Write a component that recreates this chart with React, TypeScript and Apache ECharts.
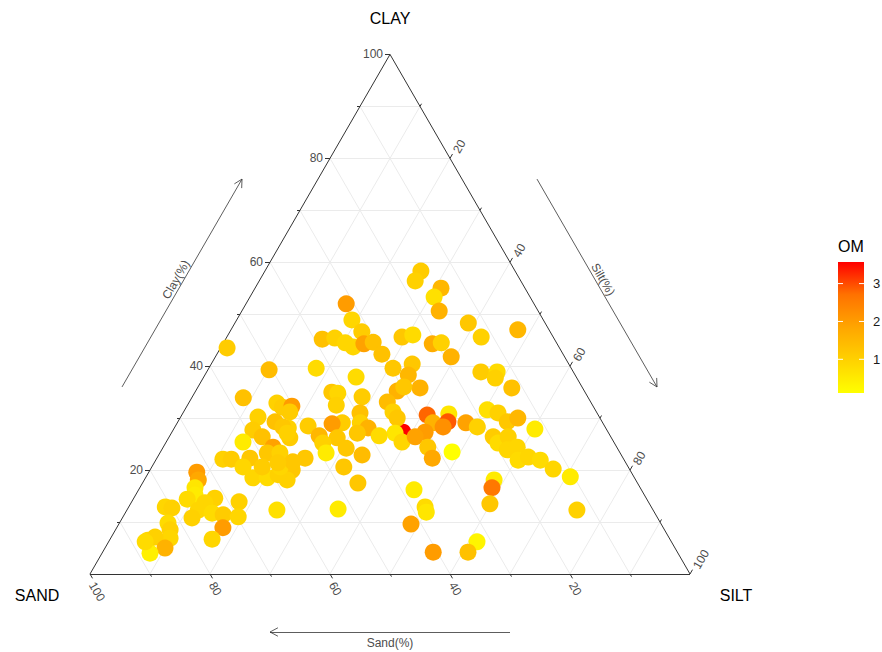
import React, { useEffect, useRef } from "react";
import * as echarts from "echarts";

// ---- data (percentages) ----
const CLAY = [27.3, 58.3, 56.4, 55.0, 53.3, 50.6, 48.3, 45.6, 47.0, 52.0, 48.9, 46.6, 45.2, 45.4, 44.5, 43.7, 44.3, 44.6, 42.3, 45.6, 46.0, 44.3, 44.5, 41.8, 43.5, 39.3, 39.6, 37.9, 39.6, 40.4, 38.3, 35.2, 35.8, 36.0, 33.1, 38.9, 38.9, 37.7, 35.8, 33.9, 32.9, 32.1, 32.3, 35.0, 34.8, 32.5, 34.1, 31.2, 30.0, 30.6, 29.1, 27.3, 27.1, 25.4, 26.4, 24.4, 22.3, 30.8, 29.3, 28.3, 29.1, 28.3, 31.6, 31.0, 29.3, 30.0, 27.9, 26.4, 25.2, 26.4, 23.9, 24.4, 21.9, 22.5, 21.9, 20.2, 18.7, 23.5, 31.0, 29.1, 28.1, 26.6, 27.1, 29.1, 28.9, 26.2, 28.5, 26.6, 25.2, 24.2, 22.9, 23.3, 20.6, 31.2, 28.1, 26.2, 22.3, 20.0, 18.1, 17.5, 12.5, 16.2, 12.9, 11.9, 9.6, 4.2, 18.1, 16.6, 13.5, 12.3, 6.2, 4.2, 30.2, 27.7, 26.4, 29.3, 28.3, 27.1, 25.4, 24.4, 23.3, 23.3, 22.1, 22.1, 22.3, 20.6, 18.5, 18.5, 19.1, 20.6, 20.6, 12.3, 19.6, 18.1, 16.6, 15.2, 14.4, 14.6, 13.7, 12.3, 10.8, 11.7, 11.4, 13.9, 11.0, 8.9, 6.7, 12.9, 12.7, 9.8, 8.5, 6.9, 6.5, 7.1, 5.0, 4.0, 6.2, 21.6, 21.4];
const SILT = [38.5, 26.0, 26.0, 31.0, 30.7, 32.9, 38.9, 42.4, 47.8, 16.7, 19.2, 22.0, 16.1, 18.1, 20.3, 22.0, 23.5, 24.9, 27.5, 29.2, 30.8, 34.9, 36.3, 39.3, 1.1, 10.2, 17.9, 25.4, 30.7, 33.5, 33.9, 33.6, 37.1, 34.3, 33.0, 45.7, 48.4, 48.7, 52.4, 8.6, 14.7, 16.0, 17.5, 22.8, 23.9, 24.8, 28.3, 34.9, 36.2, 40.9, 42.6, 42.2, 37.3, 39.3, 41.0, 44.1, 45.9, 44.4, 45.0, 44.7, 48.1, 50.4, 50.4, 52.5, 54.9, 56.3, 60.2, 54.0, 55.4, 56.5, 57.6, 59.0, 60.4, 61.8, 64.1, 67.1, 70.7, 48.6, 29.5, 30.5, 32.3, 34.9, 31.0, 27.5, 25.9, 28.1, 22.1, 24.9, 26.2, 30.6, 33.9, 27.7, 32.0, 17.7, 19.0, 20.2, 24.7, 23.7, 23.8, 35.9, 35.1, 45.9, 49.4, 50.1, 48.7, 55.1, 58.3, 58.7, 59.9, 75.0, 61.4, 60.9, 12.9, 13.3, 15.5, 16.2, 18.0, 19.3, 12.8, 18.3, 17.9, 20.0, 11.1, 12.5, 15.5, 15.2, 17.9, 20.3, 21.8, 18.4, 21.4, 25.0, 8.0, 9.0, 9.2, 9.9, 9.0, 13.5, 12.3, 11.9, 11.6, 14.5, 16.5, 17.9, 19.2, 17.7, 17.0, 6.1, 7.3, 8.1, 9.1, 9.9, 6.4, 7.3, 10.0, 8.0, 6.1, 23.0, 20.6];
const SAND = [34.2, 15.7, 17.6, 14.0, 16.0, 16.5, 12.8, 12.0, 5.2, 31.3, 31.9, 31.4, 38.7, 36.5, 35.2, 34.3, 32.2, 30.5, 30.2, 25.2, 23.2, 20.8, 19.2, 18.9, 55.4, 50.5, 42.5, 36.7, 29.7, 26.1, 27.8, 31.2, 27.1, 29.7, 33.9, 15.4, 12.7, 13.6, 11.8, 57.5, 52.4, 51.9, 50.2, 42.2, 41.3, 42.7, 37.6, 33.9, 33.8, 28.5, 28.3, 30.5, 35.6, 35.3, 32.6, 31.5, 31.8, 24.8, 25.7, 27.0, 22.8, 21.3, 18.0, 16.5, 15.8, 13.7, 11.9, 19.6, 19.4, 17.1, 18.5, 16.6, 17.7, 15.7, 14.0, 12.7, 10.6, 27.9, 39.5, 40.4, 39.6, 38.5, 41.9, 43.4, 45.2, 45.7, 49.4, 48.5, 48.6, 45.2, 43.2, 49.0, 47.4, 51.1, 52.9, 53.6, 53.0, 56.3, 58.1, 46.6, 52.4, 37.9, 37.7, 38.0, 41.7, 40.7, 23.6, 24.7, 26.6, 12.7, 32.4, 34.9, 56.9, 59.0, 58.1, 54.5, 53.7, 53.6, 61.8, 57.3, 58.8, 56.7, 66.8, 65.4, 62.2, 64.2, 63.6, 61.2, 59.1, 61.0, 58.0, 62.7, 72.4, 72.9, 74.2, 74.9, 76.6, 71.9, 74.0, 75.8, 77.6, 73.8, 72.1, 68.2, 69.8, 73.4, 76.3, 81.0, 80.0, 82.1, 82.4, 83.2, 87.1, 85.6, 85.0, 88.0, 87.7, 55.4, 58.0];
const OM = [3.57, 1.1, 1.0, 1.5, 0.7, 1.6, 1.2, 1.0, 1.5, 2.0, 0.9, 1.1, 1.3, 1.0, 0.9, 0.9, 1.9, 1.3, 1.3, 1.2, 0.8, 1.7, 1.0, 1.6, 1.1, 1.4, 0.8, 0.8, 1.2, 1.2, 1.5, 1.6, 1.6, 1.2, 1.4, 1.1, 0.8, 1.0, 1.3, 1.3, 1.0, 1.1, 2.0, 1.2, 0.9, 1.0, 1.1, 1.0, 1.2, 2.8, 1.6, 2.0, 0.6, 0.9, 1.9, 1.2, 1.8, 0.6, 2.9, 2.2, 1.9, 1.0, 0.7, 1.0, 1.2, 1.5, 0.5, 1.1, 0.8, 1.0, 0.9, 0.9, 0.8, 0.9, 0.8, 0.9, 0.5, 0.11, 1.3, 1.0, 1.6, 0.8, 1.2, 1.1, 2.0, 1.2, 1.1, 1.5, 1.0, 1.2, 1.4, 0.5, 1.2, 1.1, 1.0, 1.1, 1.2, 1.2, 1.0, 1.2, 0.5, 0.5, 0.8, 0.6, 1.9, 2.0, 0.5, 2.6, 1.2, 1.0, 0.3, 1.3, 1.0, 1.1, 1.3, 1.3, 1.2, 1.0, 0.5, 1.9, 1.2, 1.0, 1.0, 1.1, 1.2, 0.9, 0.9, 0.8, 1.0, 1.1, 0.9, 0.7, 2.0, 1.8, 0.6, 0.5, 0.8, 1.0, 0.9, 0.9, 1.0, 0.8, 1.1, 1.0, 0.9, 2.0, 0.9, 0.9, 1.0, 0.8, 1.0, 0.9, 0.9, 1.0, 1.6, 0.4, 0.8, 1.2, 1.1];

const AXIS_TICKS = [20, 40, 60, 80, 100];
const MINOR_TICKS = [10, 30, 50, 70, 90];
const GRID_STEPS = [10, 20, 30, 40, 50, 60, 70, 80, 90];
const VERTEX_LABELS = ["CLAY", "SAND", "SILT"];
const AXIS_TITLES = ["Clay(%)", "Silt(%)", "Sand(%)"];
const LEGEND_TITLE = "OM";
const LEGEND_TICKS = [1, 2, 3];
const COLORS = ["#FFFF00", "#FFD200", "#FFA600", "#FF7200", "#FF0000"];

// ---- layout ----
const GL = 90, GT = 54.4, GW = 600, GH = 519.6;
const FONT = 'Arial, "Liberation Sans", sans-serif';
const S3 = Math.sqrt(3) / 2;

// ternary -> cartesian data units (x: 0..100, y: clay 0..100)
function T(clay: number, silt: number, sand: number): [number, number] {
  const t = clay + silt + sand;
  const c = (clay / t) * 100, s = (silt / t) * 100;
  return [s + c / 2, c];
}
function toPx(p: [number, number]): [number, number] {
  return [GL + (GW * p[0]) / 100, GT + GH * (1 - p[1] / 100)];
}
function toData(p: [number, number]): [number, number] {
  return [((p[0] - GL) / GW) * 100, (1 - (p[1] - GT) / GH) * 100];
}
function shiftPx(p: [number, number], dx: number, dy: number): [number, number] {
  const q = toPx(p);
  return toData([q[0] + dx, q[1] + dy]);
}

export default function App() {
  const ref = useRef<HTMLDivElement>(null);
  useEffect(() => {
    const chart = echarts.init(ref.current!, null, { renderer: "svg" });

    // grid lines
    const gridLines: any[] = [];
    GRID_STEPS.forEach((k) => {
      gridLines.push({ coords: [T(k, 0, 100 - k), T(k, 100 - k, 0)] });
      gridLines.push({ coords: [T(0, k, 100 - k), T(100 - k, k, 0)] });
      gridLines.push({ coords: [T(100 - k, 0, k), T(0, 100 - k, k)] });
    });

    // triangle
    const vSand = T(0, 0, 100), vSilt = T(0, 100, 0), vClay = T(100, 0, 0);
    const border = [
      { coords: [vSand, vSilt] },
      { coords: [vSilt, vClay] },
      { coords: [vClay, vSand] },
    ];

    // ticks
    const dirClay: [number, number] = [-1, 0];
    const dirSilt: [number, number] = [0.5, -S3];
    const dirSand: [number, number] = [0.5, S3];
    const tickLines: any[] = [];
    const addTick = (base: [number, number], dir: [number, number], len: number) => {
      tickLines.push({ coords: [base, shiftPx(base, dir[0] * len, dir[1] * len)] });
    };
    [...AXIS_TICKS.map((v) => [v, 5]), ...MINOR_TICKS.map((v) => [v, 3])].forEach(([v, len]) => {
      addTick(T(v, 0, 100 - v), dirClay, len);
      addTick(T(100 - v, v, 0), dirSilt, len);
      addTick(T(0, 100 - v, v), dirSand, len);
    });

    // arrows
    const arrowLines: any[] = [];
    const addArrow = (a: [number, number], b: [number, number]) => {
      arrowLines.push({ coords: [a, b] });
      const pa = toPx(a), pb = toPx(b);
      const ang = Math.atan2(pa[1] - pb[1], pa[0] - pb[0]);
      const L = 9, h = (28 * Math.PI) / 180;
      [ang - h, ang + h].forEach((g) => {
        arrowLines.push({ coords: [b, toData([pb[0] + L * Math.cos(g), pb[1] + L * Math.sin(g)])] });
      });
    };
    const clayA = shiftPx(T(36, 0, 64), -76, 0), clayB = shiftPx(T(76, 0, 24), -76, 0);
    const siltA = shiftPx(T(76, 24, 0), 75, 0), siltB = shiftPx(T(36, 64, 0), 75, 0);
    const sandA = shiftPx(T(0, 70, 30), 0, 58), sandB = shiftPx(T(0, 30, 70), 0, 58);
    addArrow(clayA, clayB);
    addArrow(siltA, siltB);
    addArrow(sandA, sandB);

    const points = CLAY.map((c, i) => {
      const p = T(c, SILT[i], SAND[i]);
      return [p[0], p[1], OM[i]];
    });

    const omMin = Math.min(...OM), omMax = Math.max(...OM);

    // texts
    const graphics: any[] = [];
    const txt = (x: number, y: number, text: string, o: any = {}) => {
      graphics.push({
        type: "text",
        x,
        y,
        rotation: o.rotation || 0,
        silent: true,
        z: 50,
        style: {
          text,
          fill: o.fill || "#4D4D4D",
          fontSize: o.size || 12,
          fontFamily: FONT,
          align: o.align || "center",
          verticalAlign: o.valign || "middle",
        },
      });
    };
    AXIS_TICKS.forEach((v) => {
      const bc = toPx(T(v, 0, 100 - v));
      txt(bc[0] - 7, bc[1], String(v), { align: "right" });
      const bs = toPx(T(100 - v, v, 0));
      txt(bs[0] + 6, bs[1] - 6, String(v), { align: "left", rotation: Math.PI / 3 });
      const bd = toPx(T(0, 100 - v, v));
      txt(bd[0] + 2, bd[1] + 9, String(v), { align: "left", rotation: -Math.PI / 3 });
    });
    // axis titles
    const mid = (a: [number, number], b: [number, number]) => {
      const pa = toPx(a), pb = toPx(b);
      return [(pa[0] + pb[0]) / 2, (pa[1] + pb[1]) / 2];
    };
    const mc = mid(clayA, clayB);
    txt(mc[0] - 7 * S3, mc[1] - 3.5, AXIS_TITLES[0], { rotation: Math.PI / 3 });
    const ms = mid(siltA, siltB);
    txt(ms[0] + 7 * S3, ms[1] - 3.5, AXIS_TITLES[1], { rotation: -Math.PI / 3 });
    const md = mid(sandA, sandB);
    txt(md[0], md[1] + 11, AXIS_TITLES[2]);
    // vertex labels
    const pc = toPx(vClay), pd = toPx(vSand), ps = toPx(vSilt);
    txt(pc[0], pc[1] - 36, VERTEX_LABELS[0], { fill: "#000", size: 16 });
    txt(pd[0] - 53, pd[1] + 21, VERTEX_LABELS[1], { fill: "#000", size: 16 });
    txt(ps[0] + 46, ps[1] + 21, VERTEX_LABELS[2], { fill: "#000", size: 16 });

    // legend (colour bar)
    const LX = 838, LY = 262, LW = 26, LH = 131;
    txt(LX, 246, LEGEND_TITLE, { fill: "#000", size: 16, align: "left" });
    graphics.push({
      type: "rect",
      shape: { x: LX, y: LY, width: LW, height: LH },
      silent: true,
      style: {
        fill: new echarts.graphic.LinearGradient(
          0, 1, 0, 0,
          COLORS.map((c, i) => ({ offset: i / (COLORS.length - 1), color: c }))
        ),
      },
    });
    LEGEND_TICKS.forEach((v) => {
      const y = LY + LH - ((v - omMin) / (omMax - omMin)) * LH;
      graphics.push({ type: "line", silent: true, shape: { x1: LX, y1: y, x2: LX + 5, y2: y }, style: { stroke: "#fff", lineWidth: 1 } });
      graphics.push({ type: "line", silent: true, shape: { x1: LX + LW - 5, y1: y, x2: LX + LW, y2: y }, style: { stroke: "#fff", lineWidth: 1 } });
      txt(LX + LW + 9, y, String(v), { fill: "#1A1A1A", size: 13, align: "left" });
    });

    const linesSeries = (data: any[], color: string, width: number, z: number) => ({
      type: "lines",
      coordinateSystem: "cartesian2d",
      silent: true,
      clip: false,
      z,
      symbol: ["none", "none"],
      lineStyle: { color, width, opacity: 1, curveness: 0 },
      data,
    });

    chart.setOption({
      animation: false,
      backgroundColor: "#ffffff",
      grid: { left: GL, top: GT, width: GW, height: GH },
      xAxis: { type: "value", min: 0, max: 100, show: false },
      yAxis: { type: "value", min: 0, max: 100, show: false },
      visualMap: {
        type: "continuous",
        show: false,
        seriesIndex: 4,
        dimension: 2,
        min: omMin,
        max: omMax,
        inRange: { color: COLORS },
      },
      graphic: graphics,
      series: [
        linesSeries(gridLines, "#EBEBEB", 1, 1),
        linesSeries(border, "#333333", 1, 3),
        linesSeries(tickLines, "#333333", 1, 3),
        linesSeries(arrowLines, "#333333", 0.8, 3),
        {
          type: "scatter",
          symbol: "circle",
          symbolSize: 17,
          clip: false,
          z: 5,
          itemStyle: { opacity: 1 },
          data: points,
        },
      ],
    });
    return () => chart.dispose();
  }, []);
  return (
    <div
      ref={ref}
      style={{ position: "fixed", left: 0, top: 0, width: 882, height: 652, background: "#fff" }}
    />
  );
}
